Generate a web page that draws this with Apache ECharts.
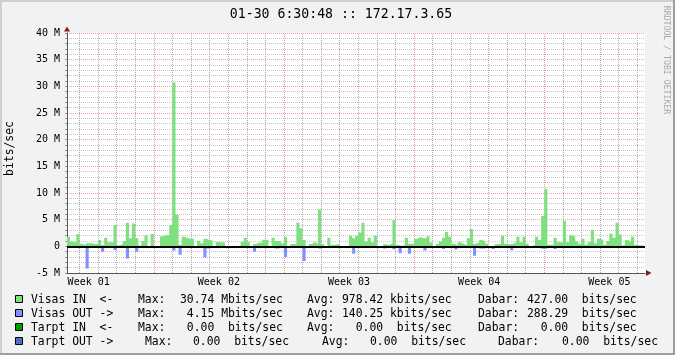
<!DOCTYPE html>
<html>
<head>
<meta charset="utf-8">
<script src="https://cdn.jsdelivr.net/npm/echarts@6/dist/echarts.min.js"></script>
<style>
html,body{margin:0;padding:0;background:#F2F2F2;}
#c{width:675px;height:355px;}
</style>
</head>
<body>
<div id="c"></div>
<script>
// ---- data (Mbits/sec, 4-hour bins starting 16 h before the first day line) ----
const BIN_START_H = -16;
const BIN_H = 4;
const visasIn = [
  1.8, 0.9, 0.7, 2.25, 0.5, 0.2, 0.6, 0.6, 0.5, 0.45,
  1.2, 0.25, 1.6, 0.75, 0.75, 4.0, 0.2, 0.4, 1.0, 4.4,
  1.5, 4.3, 1.5, 0.15, 1.0, 2.1, 0, 2.3, 0, 0,
  1.9, 2.1, 2.1, 4.0, 30.74, 5.9, 0.3, 1.8, 1.5, 1.4,
  1.4, 0, 1.05, 0.6, 1.4, 1.2, 1.1, 0, 0.8, 0.7,
  0.7, 0, 0, 0, 0, 0, 0.8, 1.6, 0.8, 0,
  0.45, 0.7, 0.7, 1.25, 1.25, 0, 1.6, 1.0, 1.0, 0.6,
  1.75, 0, 0.45, 0.45, 4.4, 3.4, 1.2, 0, 0.45, 0.8,
  0.45, 6.9, 0.45, 0, 1.6, 0.3, 0.3, 0.5, 0, 0,
  0, 2.0, 1.5, 2.0, 2.6, 4.4, 0.9, 1.6, 0.75, 2.0,
  0, 0, 0.4, 0.25, 0.6, 4.9, 0.3, 0, 0.3, 1.6,
  0.5, 0.5, 1.4, 1.75, 1.5, 1.5, 1.9, 0.7, 0, 0.5,
  0.9, 1.6, 2.7, 1.8, 0.5, 0.2, 0.75, 0.5, 0.2, 1.5,
  3.25, 0.5, 0.75, 1.2, 0.9, 0.5, 0, 0, 0.4, 0.5,
  2.0, 0.5, 0.4, 0.5, 0.75, 1.8, 0.75, 1.8, 0.5, 0,
  0.3, 1.8, 1.2, 5.7, 10.7, 0.3, 0.3, 1.6, 0.75, 0.75,
  4.8, 0.75, 2.1, 1.8, 0.9, 0.5, 1.4, 0.3, 0.75, 3.1,
  0.6, 1.4, 1.2, 0.3, 1.0, 2.4, 1.6, 4.4, 2.2, 0.2,
  1.2, 0.9, 1.8, 0.3, 0.15, 0.15, 0
];
const visasOut = [
  -0.25, -0.25, -0.25, 0, 0, 0, -4.15, 0, -0.25, -0.25,
  0, -1.0, 0, -0.2, 0, -0.7, 0, 0, 0, -2.3,
  0, -0.3, -1.0, 0, -0.2, 0, 0, 0, 0, 0,
  0, -0.3, -0.3, -0.3, -0.8, 0, -1.6, -0.2, -0.2, -0.25,
  -0.25, 0, -0.35, 0, -2.1, -0.4, 0, 0, 0, 0,
  -0.2, 0, 0, 0, 0, 0, 0, 0, 0, 0,
  -1.0, 0, 0, -0.25, 0, 0, 0, -0.4, -0.3, 0,
  -2.0, 0, 0, 0, -0.3, 0, -2.75, 0, 0, 0,
  0, -0.4, 0, 0, -0.25, -0.25, 0, 0, 0, 0,
  0, 0, -1.4, -0.25, -0.25, -0.25, -0.25, 0, 0, 0,
  0, 0, -0.4, 0, 0, -0.55, 0, -1.3, 0, 0,
  -1.4, 0, 0, 0, 0, -0.8, 0, 0, 0, 0,
  0, -0.5, 0, 0, 0, -0.6, 0, 0, 0, 0,
  -0.25, -1.75, 0, -0.4, -0.4, 0, 0, -0.5, 0, 0,
  0, 0, -0.2, -0.75, 0, 0, 0, 0, -0.3, 0,
  0, -0.3, 0, -0.45, -0.45, 0, 0, -0.5, 0, 0,
  -0.25, 0, 0, 0, 0, -0.3, 0, 0, 0, -0.3,
  -0.3, 0, 0, 0, 0, -0.25, 0, 0, 0, 0,
  0, -0.3, 0, 0, 0, 0, 0
];
const weekLabels = ['Week 01', 'Week 02', 'Week 03', 'Week 04', 'Week 05'];
const titleText = '01-30 6:30:48 :: 172.17.3.65';
const yAxisTitle = 'bits/sec';
const watermark = 'RRDTOOL / TOBI OETIKER';
const legendLabels = ['Visas IN  <-', 'Visas OUT ->', 'Tarpt IN  <-', 'Tarpt OUT ->'];
const legendMax = ['30.74 Mbits/sec', ' 4.15 Mbits/sec', ' 0.00  bits/sec', '0.00  bits/sec'];
const legendAvg = ['978.42 kbits/sec', '140.25 kbits/sec', '  0.00  bits/sec', '0.00  bits/sec'];
const legendDabar = ['427.00  bits/sec', '288.29  bits/sec', '  0.00  bits/sec', '0.00  bits/sec'];
const legendColors = ['#7EE07E', '#7F90FF', '#00A000', '#5070C8'];

// ---- styling ----
const MONO = "'DejaVu Sans Mono', monospace";
const GRAY = 'rgba(143,143,143,0.5)';
const RED = 'rgba(222,79,79,0.5)';
const VGRAY = 'rgba(130,130,130,0.65)';
const VRED = 'rgba(222,79,79,0.6)';
const ySplitColors = [RED, GRAY, GRAY, GRAY, GRAY];
const X_MIN = -16, X_MAX = 730;

// vertical day / week grid lines (hours since first day line)
const dayLines = [];
for (let h = 0; h < X_MAX; h += 24) {
  const isWeek = (h - 96) % 168 === 0;
  dayLines.push({xAxis: h, lineStyle: {color: isWeek ? VRED : VGRAY, width: 1, type: [1, 1]}});
}

function stepData(vals) {
  const d = vals.map((v, k) => [BIN_START_H + k * BIN_H, v]);
  d.push([BIN_START_H + vals.length * BIN_H, vals[vals.length - 1]]);
  return d;
}

// legend layout
const rowY = [299.8, 313.8, 327.8, 341.8];
const colX = [
  [31, 138, 180, 307, 342, 478, 527],
  [31, 138, 180, 307, 342, 478, 527],
  [31, 138, 180, 307, 342, 478, 527],
  [31, 145, 193, 322, 370, 498, 562]
];
const graphics = [
  {type: 'rect', shape: {x: 0, y: 0, width: 675, height: 2}, style: {fill: '#CFCFCF'}, silent: true},
  {type: 'rect', shape: {x: 0, y: 0, width: 2, height: 355}, style: {fill: '#CFCFCF'}, silent: true},
  {type: 'rect', shape: {x: 0, y: 353, width: 675, height: 2}, style: {fill: '#9E9E9E'}, silent: true},
  {type: 'rect', shape: {x: 673, y: 0, width: 2, height: 355}, style: {fill: '#9E9E9E'}, silent: true},
  {type: 'text', x: 341, y: 14.4, silent: true,
   style: {text: titleText, font: '13.2px ' + MONO, fill: '#000', textAlign: 'center', textVerticalAlign: 'middle'}},
  {type: 'text', x: 10.5, y: 148.5, rotation: Math.PI / 2, silent: true,
   style: {text: yAxisTitle, font: '11.4px ' + MONO, fill: '#000', textAlign: 'center', textVerticalAlign: 'middle'}},
  {type: 'text', x: 666.5, y: 60, rotation: -Math.PI / 2, silent: true,
   style: {text: watermark, font: '8.2px ' + MONO, fill: '#A8A8A8', textAlign: 'center', textVerticalAlign: 'middle'}},
  {type: 'polygon', shape: {points: [[64, 31.5], [70, 31.5], [67, 26.5]]}, style: {fill: '#801F1F'}, silent: true, z: 100},
  {type: 'polygon', shape: {points: [[646, 270], [646, 276], [651.5, 273]]}, style: {fill: '#801F1F'}, silent: true, z: 100}
];
for (let i = 0; i < 4; i++) {
  const cx = colX[i];
  graphics.push({type: 'rect', shape: {x: 15.5, y: 295.5 + 14 * i, width: 7, height: 7},
    style: {fill: legendColors[i], stroke: '#000', lineWidth: 1}, silent: true});
  const pieces = [legendLabels[i], 'Max:', legendMax[i], 'Avg:', legendAvg[i], 'Dabar:', legendDabar[i]];
  pieces.forEach((t, j) => {
    graphics.push({type: 'text', x: cx[j], y: rowY[i], silent: true,
      style: {text: t, font: '11.4px ' + MONO, fill: '#000', textAlign: 'left', textVerticalAlign: 'middle'}});
  });
}

const chart = echarts.init(document.getElementById('c'), null, {renderer: 'canvas'});
chart.setOption({
  backgroundColor: '#F2F2F2',
  animation: false,
  grid: {left: 67, right: 30, top: 33, bottom: 82, show: true, backgroundColor: '#FFFFFF', borderWidth: 0, containLabel: false, outerBoundsMode: 'none'},
  xAxis: {
    type: 'value', min: X_MIN, max: X_MAX, interval: 4,
    axisLine: {show: true, onZero: false, lineStyle: {color: '#555', width: 1}},
    axisTick: {show: false},
    axisLabel: {show: true, margin: 4, color: '#000', fontFamily: MONO, fontSize: 10,
      formatter: function (v) {
        const r = (v - 12) / 168;
        return (Number.isInteger(r) && r >= 0 && r < weekLabels.length) ? weekLabels[r] : '';
      }},
    splitLine: {show: false}
  },
  yAxis: {
    type: 'value', min: -5, max: 40, interval: 1,
    axisLine: {show: true, onZero: false, lineStyle: {color: '#555', width: 1}},
    axisTick: {show: true, length: 2, lineStyle: {color: '#999'}},
    axisLabel: {margin: 7, color: '#000', fontFamily: MONO, fontSize: 10,
      formatter: function (v) { return v % 5 === 0 ? (v === 0 ? '0' : v + ' M') : ''; }},
    splitLine: {show: true, lineStyle: {color: ySplitColors, width: 1, type: [1, 1]}}
  },
  series: [
    {type: 'line', name: 'grid', data: [], silent: true, z: 1,
     markLine: {silent: true, z: 1, symbol: 'none', label: {show: false}, data: dayLines}},
    {type: 'line', name: 'Visas IN', step: 'end', data: stepData(visasIn), symbol: 'none', z: 2,
     lineStyle: {width: 0}, areaStyle: {color: legendColors[0], opacity: 1}, silent: true},
    {type: 'line', name: 'Visas OUT', step: 'end', data: stepData(visasOut), symbol: 'none', z: 3,
     lineStyle: {width: 0}, areaStyle: {color: legendColors[1], opacity: 1}, silent: true,
     markLine: {silent: true, z: 5, symbol: 'none', label: {show: false},
       lineStyle: {color: '#000', width: 2, type: 'solid'}, data: [{yAxis: 0}]}}
  ],
  graphic: graphics
});
</script>
</body>
</html>
